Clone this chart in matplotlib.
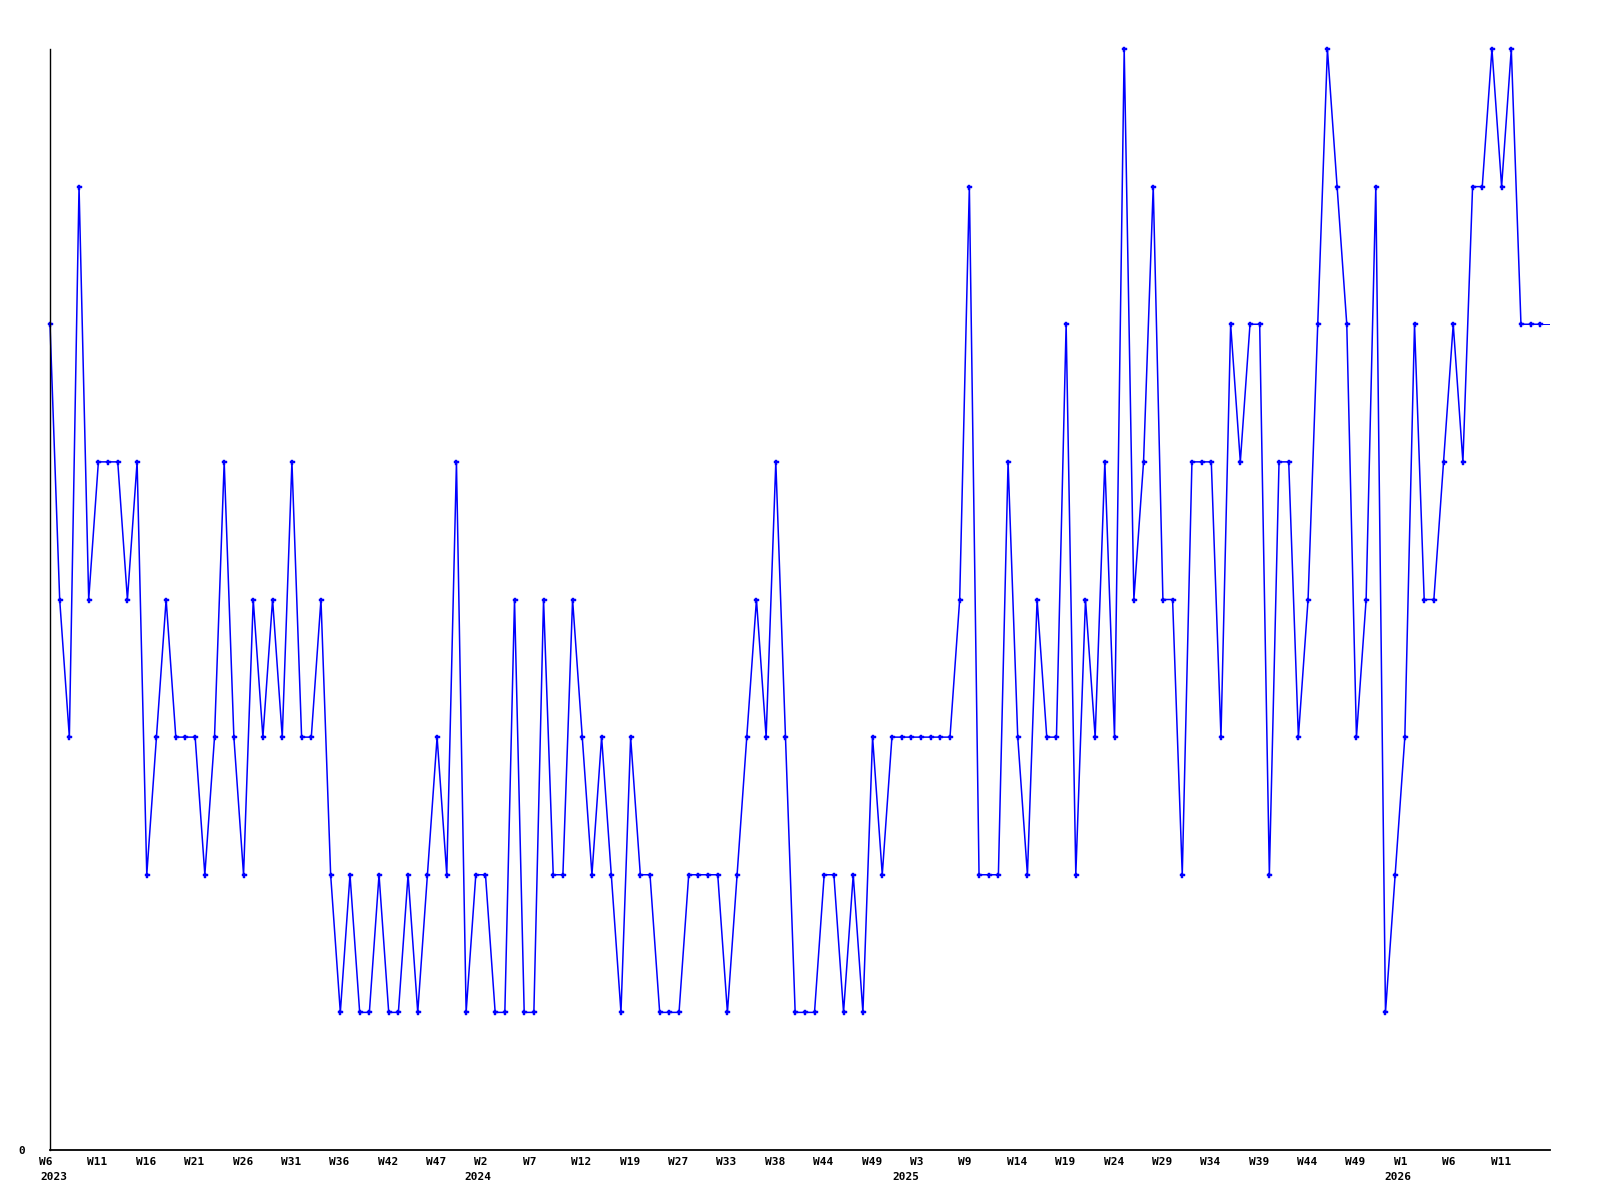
import matplotlib
matplotlib.use("Agg")
import matplotlib.pyplot as plt
import matplotlib.transforms as mtransforms

# ---- data ----
values = [6, 4, 3, 7, 4, 5, 5, 5, 4, 5,
          2, 3, 4, 3, 3, 3, 2, 3, 5, 3,
          2, 4, 3, 4, 3, 5, 3, 3, 4, 2,
          1, 2, 1, 1, 2, 1, 1, 2, 1, 2,
          3, 2, 5, 1, 2, 2, 1, 1, 4, 1,
          1, 4, 2, 2, 4, 3, 2, 3, 2, 1,
          3, 2, 2, 1, 1, 1, 2, 2, 2, 2,
          1, 2, 3, 4, 3, 5, 3, 1, 1, 1,
          2, 2, 1, 2, 1, 3, 2, 3, 3, 3,
          3, 3, 3, 3, 4, 7, 2, 2, 2, 5,
          3, 2, 4, 3, 3, 6, 2, 4, 3, 5,
          3, 8, 4, 5, 7, 4, 4, 2, 5, 5,
          5, 3, 6, 5, 6, 6, 2, 5, 5, 3,
          4, 6, 8, 7, 6, 3, 4, 7, 1, 2,
          3, 6, 4, 4, 5, 6, 5, 7, 7, 8,
          7, 8, 6, 6, 6]
tail_value = 6  # unmarked final segment

week_labels = ["W6", "W11", "W16", "W21", "W26", "W31", "W36", "W42", "W47",
               "W2", "W7", "W12", "W19", "W27", "W33", "W38", "W44", "W49",
               "W3", "W9", "W14", "W19", "W24", "W29", "W34", "W39", "W44", "W49",
               "W1", "W6", "W11"]
tick_step = 5
years = ["2023", "2024", "2025", "2026"]
year_pos = [0.35, 44.2, 88.4, 139.3]

# ---- figure ----
fig = plt.figure(figsize=(16, 12), dpi=100)
ax = fig.add_axes([50 / 1600, 50 / 1200, 1500 / 1600, 1101 / 1200])

n = len(values)
xs = list(range(n))
ax.plot([n - 1, n], [values[-1], tail_value], color="#0000ff", lw=0.7)
ax.plot(xs, values, color="#0000ff", lw=1.1, marker="P", markersize=3.6,
        markeredgewidth=0.3, markerfacecolor="#0000ff", markeredgecolor="#0000ff",
        clip_on=False)

ax.set_xlim(0, n)
ax.set_ylim(0, 8)

for s in ["top", "right"]:
    ax.spines[s].set_visible(False)
ax.spines["left"].set_linewidth(1.0)
ax.spines["bottom"].set_linewidth(1.3)

mono = {"family": "DejaVu Sans Mono", "weight": "bold", "size": 8}

ax.set_yticks([0])
ax.set_yticklabels(["0"], fontdict=mono)
ax.tick_params(axis="y", length=0, pad=18)

ticks = list(range(0, tick_step * len(week_labels), tick_step))
ax.set_xticks(ticks)
ax.set_xticklabels(week_labels, fontdict=mono, ha="left")
ax.tick_params(axis="x", length=0, pad=5)
offset = mtransforms.ScaledTranslation(-11 / 100, 0, fig.dpi_scale_trans)
for lab in ax.get_xticklabels():
    lab.set_transform(lab.get_transform() + offset)

trans = mtransforms.blended_transform_factory(ax.transData, ax.transAxes)
for yr, p in zip(years, year_pos):
    ax.annotate(yr, xy=(p, 0), xycoords=trans, xytext=(0, -27.5),
                textcoords="offset pixels", ha="center", va="center",
                fontfamily="DejaVu Sans Mono", fontweight="bold", fontsize=8)

fig.savefig("out.png", dpi=100)
